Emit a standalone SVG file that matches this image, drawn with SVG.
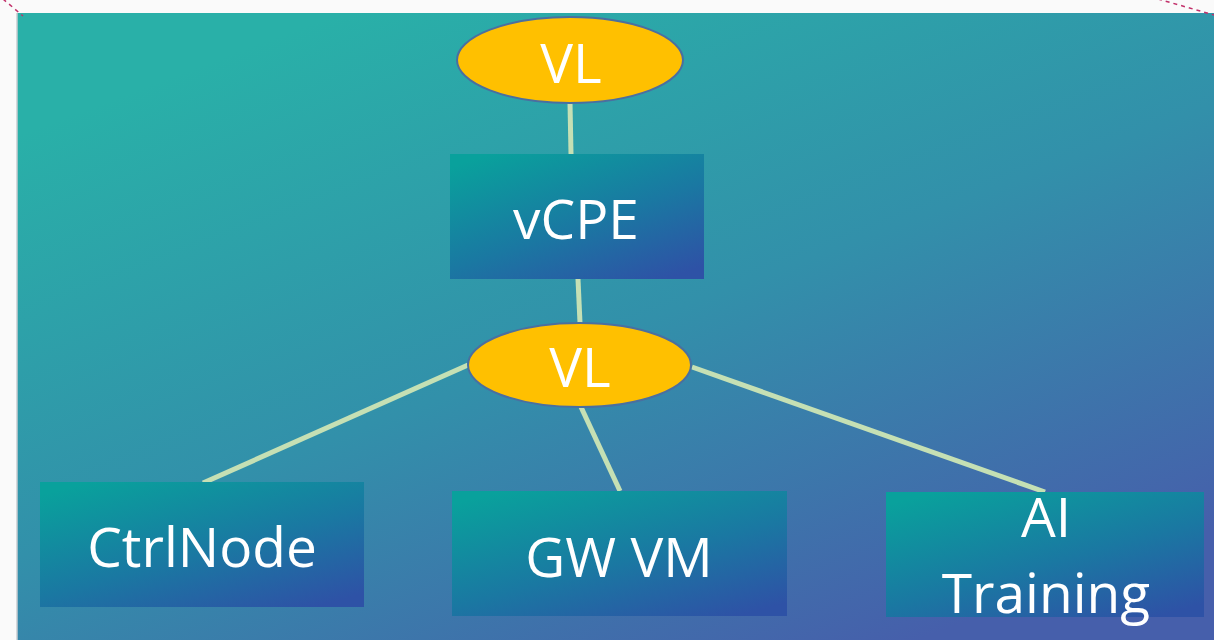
<svg xmlns="http://www.w3.org/2000/svg" width="1214" height="640" viewBox="0 0 1214 640">
  <defs>
    <linearGradient id="panelGrad" gradientUnits="userSpaceOnUse" x1="480" y1="-40" x2="760" y2="700">
      <stop offset="0" stop-color="#29B0A8"/>
      <stop offset="0.5" stop-color="#3290AA"/>
      <stop offset="1" stop-color="#465FAB"/>
    </linearGradient>
    <linearGradient id="boxGrad" x1="0.15" y1="0" x2="0.85" y2="1">
      <stop offset="0" stop-color="#09A19C"/>
      <stop offset="0.55" stop-color="#1A78A2"/>
      <stop offset="1" stop-color="#2E52A6"/>
    </linearGradient>
    <style>
      .box { fill: url(#boxGrad); }
      .vl { fill: #FFC000; stroke: #4A6FA0; stroke-width: 2; }
      .lbl { fill: #FFFFFF; font-family: "Open Sans", "Liberation Sans", sans-serif; font-size: 55px; text-anchor: middle; }
      .conn { stroke: #C5E0B4; stroke-width: 5; fill: none; }
      .guide { stroke: #C2306A; stroke-width: 1.5; stroke-dasharray: 4 4; fill: none; }
    </style>
  </defs>
  <rect x="0" y="0" width="1214" height="640" fill="#FAFAFA"/>
  <rect id="panel" x="17" y="13" width="1197" height="627" fill="url(#panelGrad)"/>
  <line x1="17" y1="13" x2="17" y2="640" stroke="#C8CCD0" stroke-width="1.5"/>
  <line class="guide" x1="3" y1="-1" x2="23" y2="16"/>
  <line class="guide" x1="1158" y1="-1" x2="1214" y2="15"/>

  <g id="connectors">
    <line class="conn" x1="570" y1="103" x2="571" y2="154"/>
    <line class="conn" x1="578" y1="279" x2="580" y2="323"/>
    <line class="conn" x1="468" y1="365" x2="203" y2="483"/>
    <line class="conn" x1="581" y1="407" x2="620" y2="491"/>
    <line class="conn" x1="692" y1="367" x2="1045" y2="492"/>
  </g>

  <g id="vl-top">
    <ellipse class="vl" cx="570" cy="60" rx="113" ry="43"/>
    <text class="lbl" x="571" y="83">VL</text>
  </g>
  <g id="vcpe">
    <rect class="box" x="450" y="154" width="254" height="125"/>
    <text class="lbl" x="576" y="239">vCPE</text>
  </g>
  <g id="vl-mid">
    <ellipse class="vl" cx="579.5" cy="365" rx="111.5" ry="42"/>
    <text class="lbl" x="580" y="387">VL</text>
  </g>
  <g id="ctrlnode">
    <rect class="box" x="40" y="482" width="324" height="125"/>
    <text class="lbl" x="202" y="567">CtrlNode</text>
  </g>
  <g id="gwvm">
    <rect class="box" x="452" y="491" width="335" height="125"/>
    <text class="lbl" x="619" y="577">GW VM</text>
  </g>
  <g id="aitraining">
    <rect class="box" x="886" y="492" width="318" height="125"/>
    <text class="lbl" x="1046" y="537">AI</text>
    <text class="lbl" x="1046" y="613">Training</text>
  </g>
</svg>
